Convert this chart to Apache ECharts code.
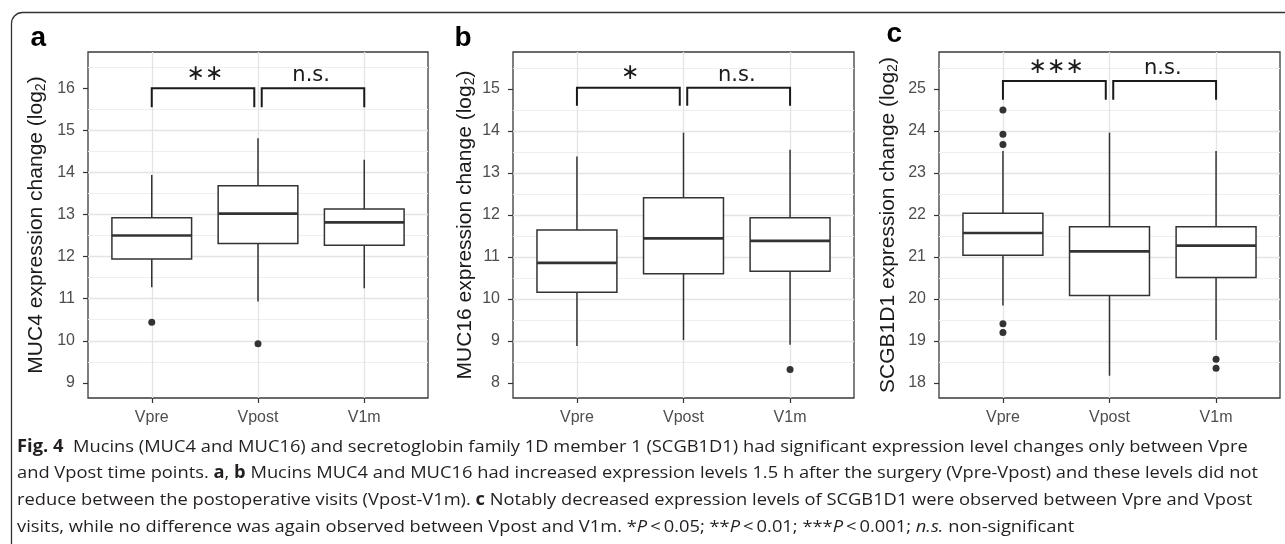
<!DOCTYPE html>
<html><head><meta charset="utf-8">
<script src="https://cdn.jsdelivr.net/npm/echarts@6/dist/echarts.min.js"></script>
<style>html,body{margin:0;padding:0;background:#fff}#chart{width:1285px;height:544px}</style>
</head><body><div id="chart"></div>
<script>
// ---------------- data ----------------
const categories = ['Vpre', 'Vpost', 'V1m'];

// boxes: [lower whisker, Q1, median, Q3, upper whisker] per category
const muc4Boxes  = [[11.27, 11.94, 12.50, 12.92, 13.94], [10.93, 12.31, 13.02, 13.68, 14.81], [11.25, 12.27, 12.81, 13.13, 14.30]];
const muc4Outliers = [['Vpre', 10.44], ['Vpost', 9.93]];
const muc4Sig = [['Vpre', 'Vpost', 16.00, 15.55, '\u2217\u2217'], ['Vpost', 'V1m', 16.00, 15.55, 'n.s.']];
const muc4Range = [8.64, 16.86];
const muc4Ticks = [9, 10, 11, 12, 13, 14, 15, 16];

const muc16Boxes = [[8.88, 10.16, 10.86, 11.64, 13.39], [9.02, 10.60, 11.44, 12.41, 13.96], [8.91, 10.66, 11.38, 11.93, 13.55]];
const muc16Outliers = [['V1m', 8.32]];
const muc16Sig = [['Vpre', 'Vpost', 15.03, 14.60, '\u2217'], ['Vpost', 'V1m', 15.03, 14.60, 'n.s.']];
const muc16Range = [7.64, 15.88];
const muc16Ticks = [8, 9, 10, 11, 12, 13, 14, 15];

const scgbBoxes = [[19.84, 21.04, 21.57, 22.04, 23.52], [18.17, 20.08, 21.13, 21.72, 23.96], [19.02, 20.51, 21.27, 21.72, 23.52]];
const scgbOutliers = [['Vpre', 24.50], ['Vpre', 23.92], ['Vpre', 23.68], ['Vpre', 19.41], ['Vpre', 19.20], ['V1m', 18.56], ['V1m', 18.35]];
const scgbSig = [['Vpre', 'Vpost', 25.19, 24.74, '\u2217\u2217\u2217'], ['Vpost', 'V1m', 25.19, 24.74, 'n.s.']];
const scgbRange = [17.64, 25.88];
const scgbTicks = [18, 19, 20, 21, 22, 23, 24, 25];

const yTitles = ['MUC4 expression change (log{s|2})', 'MUC16 expression change (log{s|2})', 'SCGB1D1 expression change (log{s|2})'];
const panelTags = ['a', 'b', 'c'];

const captionLines = [
  '{b|Fig. 4}  Mucins (MUC4 and MUC16) and secretoglobin family 1D member 1 (SCGB1D1) had significant expression level changes only between Vpre',
  'and Vpost time points. {b|a}, {b|b} Mucins MUC4 and MUC16 had increased expression levels 1.5 h after the surgery (Vpre-Vpost) and these levels did not',
  'reduce between the postoperative visits (Vpost-V1m). {b|c} Notably decreased expression levels of SCGB1D1 were observed between Vpre and Vpost',
  'visits, while no difference was again observed between Vpost and V1m. *{i|P}\u2009<\u20090.05; **{i|P}\u2009<\u20090.01; ***{i|P}\u2009<\u20090.001; {i|n.s.} non-significant'
];

// ---------------- styling / layout ----------------
const FONT = 'Liberation Sans, Arial, sans-serif';
const BOX_COLOR = '#333333';
const BOX_HALF = 0.375;
const BRACKET_GAP = 0.035;
const grids = [
  { left: 88, top: 52, width: 340, height: 346, nameGap: 40 },
  { left: 513, top: 52, width: 341, height: 346, nameGap: 36 },
  { left: 939, top: 52, width: 341, height: 346, nameGap: 39 }
];
const tagPos = [[30.5, 37.8], [454.5, 38.3], [886.5, 34.3]];

const panels = [
  { boxes: muc4Boxes, outliers: muc4Outliers, sig: muc4Sig, range: muc4Range, ticks: muc4Ticks },
  { boxes: muc16Boxes, outliers: muc16Outliers, sig: muc16Sig, range: muc16Range, ticks: muc16Ticks },
  { boxes: scgbBoxes, outliers: scgbOutliers, sig: scgbSig, range: scgbRange, ticks: scgbTicks }
];
const catX = c => categories.indexOf(c) + 1;
const catIdx = categories.map((c, k) => k + 1);

function renderBox(params, api) {
  const x = api.value(0);
  const lo = api.coord([x, api.value(1)]);
  const q1 = api.coord([x, api.value(2)]);
  const md = api.coord([x, api.value(3)]);
  const q3 = api.coord([x, api.value(4)]);
  const hi = api.coord([x, api.value(5)]);
  const left = api.coord([x - BOX_HALF, api.value(3)])[0];
  const right = api.coord([x + BOX_HALF, api.value(3)])[0];
  const cx = lo[0];
  const st = { stroke: BOX_COLOR, lineWidth: 1.5, fill: null };
  return {
    type: 'group', children: [
      { type: 'line', shape: { x1: cx, y1: hi[1], x2: cx, y2: q3[1] }, style: st },
      { type: 'line', shape: { x1: cx, y1: q1[1], x2: cx, y2: lo[1] }, style: st },
      { type: 'rect', shape: { x: left, y: q3[1], width: right - left, height: q1[1] - q3[1] },
        style: { stroke: BOX_COLOR, lineWidth: 1.5, fill: '#ffffff' } },
      { type: 'line', shape: { x1: left, y1: md[1], x2: right, y2: md[1] }, style: { stroke: BOX_COLOR, lineWidth: 2.7 } }
    ]
  };
}

function makeBracketRender(sig) {
  return function (params, api) {
    const s = sig[params.dataIndex];
    let x1 = api.value(0), x2 = api.value(1);
    if (sig.some(o => o !== s && o[1] === s[0])) x1 += BRACKET_GAP;
    if (sig.some(o => o !== s && o[0] === s[1])) x2 -= BRACKET_GAP;
    const a = api.coord([x1, api.value(3)]);
    const b = api.coord([x1, api.value(2)]);
    const c = api.coord([x2, api.value(2)]);
    const d = api.coord([x2, api.value(3)]);
    const mid = api.coord([(api.value(0) + api.value(1)) / 2, api.value(2)]);
    const isStar = s[4].indexOf('\u2217') >= 0;
    return {
      type: 'group', children: [
        { type: 'polyline', shape: { points: [a, b, c, d] }, style: { stroke: '#1a1a1a', lineWidth: 2, fill: null } },
        { type: 'text', style: {
            text: s[4], x: mid[0], y: mid[1] - (isStar ? 3 : 2),
            align: 'center', verticalAlign: 'bottom',
            fontFamily: 'DejaVu Sans', fontSize: isStar ? 22 : 21, fill: '#1a1a1a'
          } }
      ]
    };
  };
}

const gridOpt = [], xAxes = [], yAxes = [], series = [];
panels.forEach((p, i) => {
  const g = grids[i];
  gridOpt.push({ left: g.left, top: g.top, width: g.width, height: g.height, show: true,
    borderColor: '#3a3a3a', borderWidth: 1.3, backgroundColor: '#ffffff', containLabel: false });
  xAxes.push({
    gridIndex: i, type: 'value', min: 0.4, max: 3.6,
    axisLine: { show: false },
    splitLine: { show: false },
    axisTick: { show: true, customValues: catIdx, length: 5, lineStyle: { color: '#333', width: 1.2 } },
    axisLabel: { customValues: catIdx, formatter: v => categories[Math.round(v) - 1],
      fontSize: 16, color: '#4d4d4d', margin: 12, fontFamily: FONT }
  });
  yAxes.push({
    gridIndex: i, type: 'value', min: p.range[0], max: p.range[1], splitNumber: 8,
    name: yTitles[i], nameLocation: 'middle', nameGap: g.nameGap, nameRotate: 90,
    nameTextStyle: { fontFamily: FONT, fontSize: 21, color: '#1a1a1a', lineHeight: 24,
      rich: { s: { fontFamily: FONT, fontSize: 14, lineHeight: 12, verticalAlign: 'bottom', color: '#1a1a1a' } } },
    axisLine: { show: false },
    axisTick: { show: true, customValues: p.ticks, length: 5, lineStyle: { color: '#333', width: 1.2 } },
    axisLabel: { customValues: p.ticks, fontSize: 16, color: '#4d4d4d', margin: 13, fontFamily: FONT },
    splitLine: { show: true, showMinLine: false, showMaxLine: false, lineStyle: { color: '#e4e4e4', width: 1.3 } },
    minorTick: { show: false, splitNumber: 2 },
    minorSplitLine: { show: true, lineStyle: { color: '#efefef', width: 1 } }
  });
  // vertical major grid lines at categories
  series.push({
    type: 'line', xAxisIndex: i, yAxisIndex: i, data: [], z: 1, silent: true,
    markLine: { silent: true, z: 1, symbol: ['none', 'none'], label: { show: false },
      lineStyle: { color: '#e4e4e4', width: 1.3, type: 'solid' },
      emphasis: { disabled: true },
      data: catIdx.map(v => ({ xAxis: v })) }
  });
  series.push({
    type: 'custom', xAxisIndex: i, yAxisIndex: i, z: 3, silent: true,
    renderItem: renderBox,
    encode: { x: 0, y: [1, 2, 3, 4, 5] },
    data: p.boxes.map((b, k) => [k + 1].concat(b))
  });
  series.push({
    type: 'scatter', xAxisIndex: i, yAxisIndex: i, z: 4, silent: true,
    symbol: 'circle', symbolSize: 7, itemStyle: { color: '#333333', opacity: 1 },
    data: p.outliers.map(o => [catX(o[0]), o[1]])
  });
  series.push({
    type: 'custom', xAxisIndex: i, yAxisIndex: i, z: 5, silent: true, clip: false,
    renderItem: makeBracketRender(p.sig),
    encode: { x: [0, 1], y: [2, 3] },
    data: p.sig.map(s => [catX(s[0]), catX(s[1]), s[2], s[3]])
  });
});

const CAP_FONT = 'Open Sans, Noto Sans, sans-serif';
const CAP_SIZE = 17;
const CAP_SCALE_X = 1.077;
const capBaselines = [451.7, 478.3, 505, 531.7];
const graphic = [
  { type: 'rect', silent: true, z: -10,
    shape: { x: 11.5, y: 12.5, width: 1320, height: 580, r: 11 },
    style: { fill: 'none', stroke: '#333333', lineWidth: 1.3 } }
];
panelTags.forEach((t, i) => {
  graphic.push({ type: 'text', silent: true,
    style: { text: t, x: tagPos[i][0], y: tagPos[i][1], verticalAlign: 'middle', align: 'left',
      fontFamily: FONT, fontWeight: 'bold', fontSize: 28, fill: '#000' } });
});
captionLines.forEach((line, k) => {
  graphic.push({ type: 'text', silent: true,
    x: 17, y: capBaselines[k] - 5, scaleX: CAP_SCALE_X,
    style: { text: line, x: 0, y: 0, verticalAlign: 'middle', align: 'left',
      fontFamily: CAP_FONT, fontSize: CAP_SIZE, lineHeight: 20, fill: '#231f20',
      rich: {
        b: { fontFamily: CAP_FONT, fontSize: CAP_SIZE, lineHeight: 20, fontWeight: 'bold', fill: '#231f20' },
        i: { fontFamily: CAP_FONT, fontSize: CAP_SIZE, lineHeight: 20, fontStyle: 'italic', fill: '#231f20' }
      } } });
});

const chart = echarts.init(document.getElementById('chart'), null, { renderer: 'canvas' });
chart.setOption({
  animation: false,
  backgroundColor: '#ffffff',
  textStyle: { fontFamily: FONT },
  grid: gridOpt,
  xAxis: xAxes,
  yAxis: yAxes,
  series: series,
  graphic: graphic
});
</script>
</body></html>
